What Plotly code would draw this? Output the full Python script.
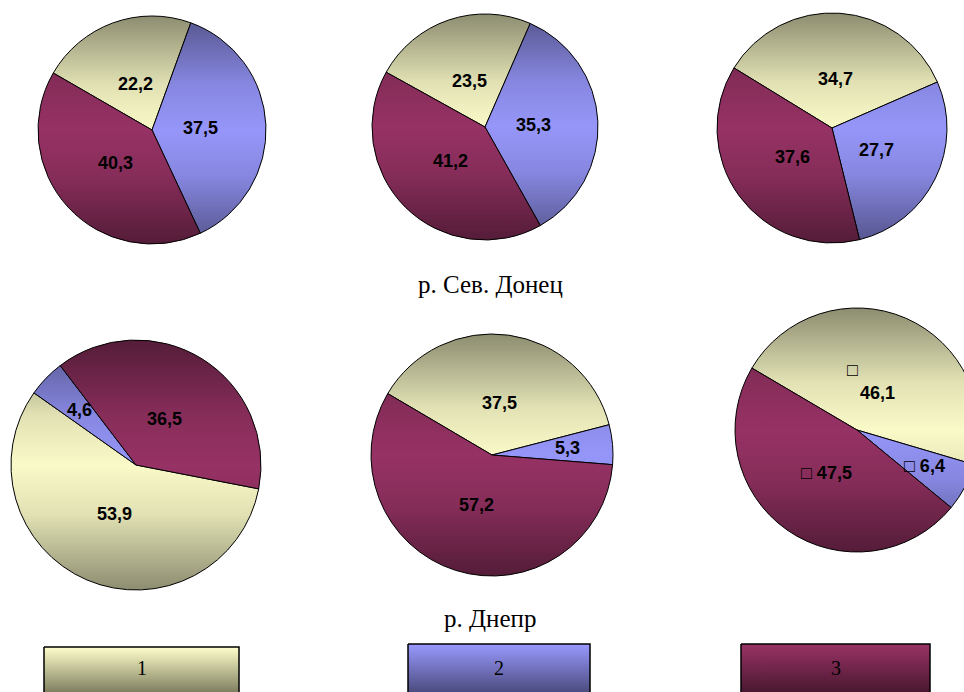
import base64
import math
import plotly.graph_objects as go

# ---------------- data ----------------
categories = ["1", "2", "3"]
donets_a = [22.2, 37.5, 40.3]
donets_b = [23.5, 35.3, 41.2]
donets_c = [34.7, 27.7, 37.6]
dnepr_a = [53.9, 4.6, 36.5]
dnepr_b = [37.5, 5.3, 57.2]
dnepr_c = [46.1, 6.4, 47.5]
title_top = "р. Сев. Донец"
title_bottom = "р. Днепр"

# ---------------- style ----------------
W, H = 1000, 692
light_colors = ["#FFFFCC", "#9999FF", "#993366"]
dark_colors = ["#808060", "#4C4C80", "#4A1830"]
label_font = dict(family="Liberation Sans", size=18, color="black", weight="bold")

def fmt(v):
    return f"{v:.1f}".replace(".", ",")

NB = "\u00a0"

# pie placement (centre x, centre y, radius) in pixels, rotation
pies = [
    (donets_a, (152, 130, 114), -60, None),
    (donets_b, (485, 127, 113), -61, None),
    (donets_c, (832, 128, 115), -58.5, None),
    (dnepr_a, (136, 465, 125), 101, None),
    (dnepr_b, (492, 455, 121), -59.5, None),
    (dnepr_c, (857, 430, 122), -59.5, "marker"),
]

# vertical shading overlay (dark at top/bottom, light in the middle)
svg = ("<svg xmlns='http://www.w3.org/2000/svg' width='200' height='200' viewBox='0 0 200 200'>"
       "<defs><linearGradient id='g' x1='0' y1='0' x2='0' y2='1'>"
       "<stop offset='0' stop-color='black' stop-opacity='0.45'/>"
       "<stop offset='0.3' stop-color='black' stop-opacity='0.12'/>"
       "<stop offset='0.5' stop-color='black' stop-opacity='0.02'/>"
       "<stop offset='0.7' stop-color='black' stop-opacity='0.12'/>"
       "<stop offset='1' stop-color='black' stop-opacity='0.45'/>"
       "</linearGradient></defs><circle cx='100' cy='100' r='100' fill='url(#g)'/></svg>")
svg_uri = "data:image/svg+xml;base64," + base64.b64encode(svg.encode()).decode()

fig = go.Figure()
images = []

for vals, (cx, cy, r), rot, mode in pies:
    fig.add_trace(go.Pie(
        labels=categories,
        values=vals,
        textinfo="none",
        sort=False,
        direction="clockwise",
        rotation=rot,
        marker=dict(colors=light_colors, line=dict(color="black", width=1)),
        domain=dict(x=[(cx - r) / W, (cx + r) / W], y=[1 - (cy + r) / H, 1 - (cy - r) / H]),
        showlegend=False,
        hoverinfo="skip",
    ))
    images.append(dict(source=svg_uri, xref="paper", yref="paper",
                       x=(cx - r) / W, y=1 - (cy - r) / H,
                       sizex=2 * r / W, sizey=2 * r / H,
                       xanchor="left", yanchor="top", sizing="stretch", layer="above"))
    # value labels placed along each slice's bisector (derived from the data)
    total = sum(vals)
    cum = 0.0
    for i, v in enumerate(vals):
        theta = math.radians(rot + 360.0 * (cum + v / 2.0) / total)
        cum += v
        frac = 0.63 if v / total < 0.1 else 0.43
        lx = cx + frac * r * math.sin(theta)
        ly = cy - frac * r * math.cos(theta)
        if mode == "marker":
            if i == 0:
                txt = "□" + NB * 10 + "<br>" + fmt(v)
            else:
                txt = "□" + NB + fmt(v)
        else:
            txt = fmt(v)
        fig.add_annotation(x=lx, y=ly, text=txt, showarrow=False, font=label_font,
                           xref="x", yref="y")

# legend boxes (gradient) on a hidden pixel-space axis
legend_boxes = [(44, 239, 647), (408, 590, 644), (741, 930, 644)]
for (x0, x1, y0), lc, dc, lab in zip(legend_boxes, light_colors, dark_colors, categories):
    fig.add_trace(go.Scatter(
        x=[x0, x1, x1, x0, x0], y=[y0, y0, H + 2, H + 2, y0],
        mode="lines", fill="toself",
        line=dict(color="black", width=1.5),
        fillgradient=dict(type="vertical", colorscale=[[0, lc], [1, dc]], start=y0, stop=H),
        showlegend=False, hoverinfo="skip",
    ))
    fig.add_annotation(x=(x0 + x1) / 2, y=668, text=lab, showarrow=False,
                       font=dict(family="Liberation Serif", size=20, color="black"),
                       xref="x", yref="y")

fig.add_annotation(x=490, y=284, text=title_top, showarrow=False,
                   font=dict(family="Liberation Serif", size=25, color="black"), xref="x", yref="y")
fig.add_annotation(x=490, y=618, text=title_bottom, showarrow=False,
                   font=dict(family="Liberation Serif", size=25, color="black"), xref="x", yref="y")

fig.update_layout(
    width=W, height=H, autosize=False,
    margin=dict(l=0, r=0, t=0, b=0),
    paper_bgcolor="white", plot_bgcolor="white",
    images=images,
    xaxis=dict(range=[0, W], visible=False, domain=[0, 1], fixedrange=True),
    yaxis=dict(range=[H, 0], visible=False, domain=[0, 1], fixedrange=True),
)

fig.write_html("out.html", post_script="document.documentElement.style.overflow='hidden';document.body.style.overflow='hidden';document.body.style.margin='0';")
